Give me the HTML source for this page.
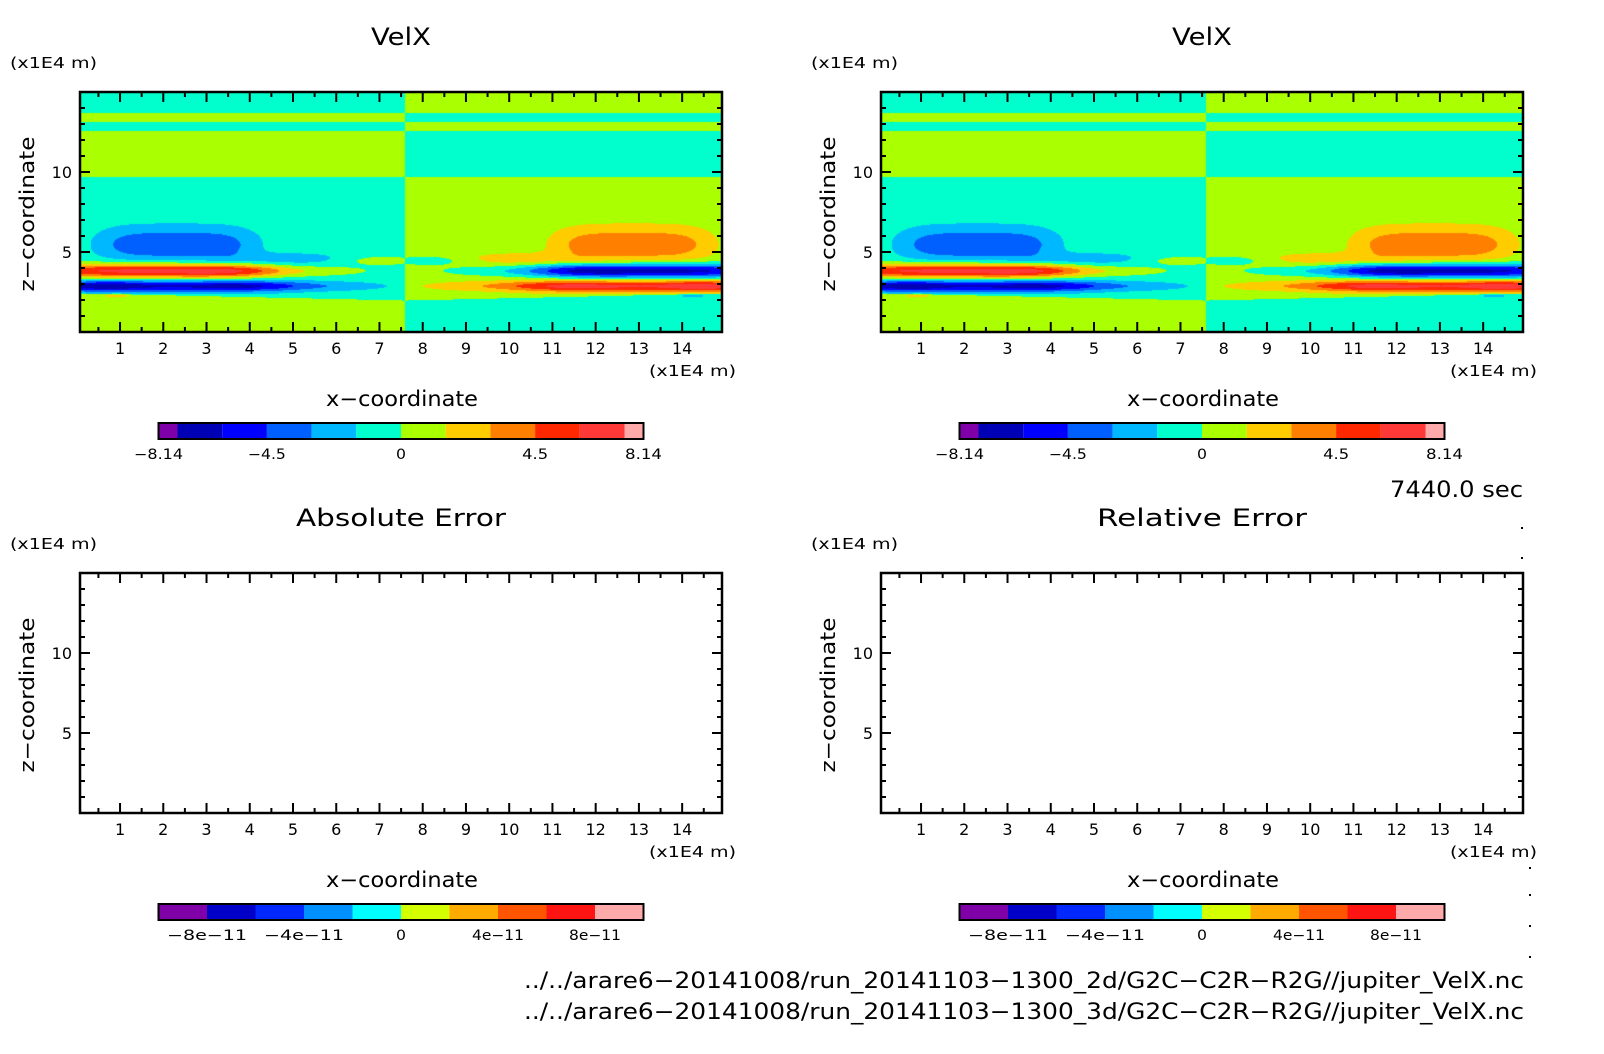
<!DOCTYPE html>
<html><head><meta charset="utf-8"><style>
body{margin:0;background:#fff;width:1604px;height:1054px;overflow:hidden;position:relative;font-family:"DejaVu Sans","Liberation Sans",sans-serif}
canvas{position:absolute}
svg{position:absolute;left:0;top:0;font-family:"DejaVu Sans","Liberation Sans",sans-serif}
</style></head><body>
<canvas id="f1" width="642" height="240" style="left:80px;top:92px"></canvas>
<canvas id="f2" width="642" height="240" style="left:881px;top:92px"></canvas>
<svg id="s" width="1604" height="1054"></svg>
<script>
// colour levels (m/s)
const levels=[-7.5,-6,-4.5,-3,-1.5,0,1.5,3,4.5,6,7.5];
const colors=["#7f00a8","#0000b4","#0000ff","#0060ff","#00b8ff","#00ffcc","#aaff00","#ffcc00","#ff8000","#ff2800","#ff3838","#ffaaaa"];
const errColors=["#8000a8","#0000c8","#0028ff","#0090ff","#00ffff","#d4ff00","#ffaa00","#ff5500","#ff1414","#ffaaaa"];
const errTicks=["-8e-11","-4e-11","0","4e-11","8e-11"];
const errTickVals=[-8,-4,0,4,8];
const errTickLen=[80,80,10,52,52];
const velTicks=["-8.14","-4.5","0","4.5","8.14"];
const velTickVals=[-8.14,-4.5,0,4.5,8.14];
const velTickLen=[49,38,10,26,37];
// layered background (left half), z boundaries and signs
const layerTops=[9.75,12.6,13.15,13.75,99];
const layerVals=[-0.75,0.75,-0.75,0.75,-0.75];
const groundZ0=2.45, groundZ1=2.0;
// blobs: x, z, sx, sz, amp, xpower
const blobX=[1.8,4.6,2.0,5.0,0.6,2.3,4.9,7.0,0.9];
const blobZ=[3.85,3.85,2.9,2.9,2.9,5.5,4.6,4.5,2.3];
const blobSX=[2.6,2.0,2.8,2.0,0.9,1.78,1.4,0.9,0.35];
const blobSZ=[0.45,0.35,0.37,0.32,0.3,1.05,0.4,0.3,0.12];
const blobA=[7.3,2.2,-5.0,-2.4,-2.0,-3.6,-1.6,1.6,1.8];
const blobP=[2,1,2,1,1,2,1,1,1];
const divideX=7.57;
function g(x,z){
  let v;const zb=groundZ0+(groundZ1-groundZ0)*x/7.5;
  if(z<zb)v=0.75;else{v=layerVals[0];for(let k=0;k<layerTops.length;k++){if(z<layerTops[k]){v=layerVals[k];break;}}}
  for(let b=0;b<blobX.length;b++){
    const dx=(x-blobX[b])/blobSX[b],dz=(z-blobZ[b])/blobSZ[b];
    const ex=blobP[b]==2?dx*dx*dx*dx:dx*dx;
    v+=blobA[b]*Math.exp(-ex-dz*dz);
  }
  return v;
}
function field(x,z){return x<divideX?g(x,z):-g(2*divideX-x,z);}
function col(v){let i=0;while(i<levels.length&&v>=levels[i])i++;return colors[i];}
function hex(c){return [parseInt(c.slice(1,3),16),parseInt(c.slice(3,5),16),parseInt(c.slice(5,7),16)];}
['f1','f2'].forEach(id=>{
  const cv=document.getElementById(id),ctx=cv.getContext('2d');
  const im=ctx.createImageData(642,240);
  for(let j=0;j<240;j++)for(let i=0;i<642;i++){
    const x=(i+3.2)/43.24,z=(240-j)/16;
    const c=hex(col(field(x,z)));const p=(j*642+i)*4;
    im.data[p]=c[0];im.data[p+1]=c[1];im.data[p+2]=c[2];im.data[p+3]=255;}
  ctx.putImageData(im,0,0);
});
const S=document.getElementById('s'),NS="http://www.w3.org/2000/svg";
function el(t,a,txt){const e=document.createElementNS(NS,t);for(const k in a)e.setAttribute(k,a[k]);if(txt!==undefined)e.textContent=txt;S.appendChild(e);return e;}
function panel(ox,oy,title,err,pid){
  const L=ox,T=oy,W=642,H=240;
  const xs=x=>L-3.2+43.24*x, ys=z=>T+H-16*z;
  let e=el('text',{x:L+321,y:T-47,'font-size':24,'text-anchor':'middle',textLength:err?210:60,lengthAdjust:'spacingAndGlyphs'},title);
  
  
  e=el('text',{x:L-70,y:T-24,'font-size':15,textLength:87,lengthAdjust:'spacingAndGlyphs'},'(x1E4 m)');
  
  
  e=el('text',{x:0,y:0,'font-size':20,'text-anchor':'middle',textLength:155,lengthAdjust:'spacingAndGlyphs',transform:`translate(${L-46},${T+122}) rotate(-90)`},'z\u2212coordinate');
  
  
  for(let i=1;i<=14;i++){
    el('line',{x1:xs(i),x2:xs(i),y1:T+H,y2:T+H-10,stroke:'#000','stroke-width':2});
    el('line',{x1:xs(i),x2:xs(i),y1:T,y2:T+10,stroke:'#000','stroke-width':2});
    el('line',{x1:xs(i-0.5),x2:xs(i-0.5),y1:T+H,y2:T+H-5,stroke:'#000','stroke-width':2});
    el('line',{x1:xs(i-0.5),x2:xs(i-0.5),y1:T,y2:T+5,stroke:'#000','stroke-width':2});
    e=el('text',{x:xs(i),y:T+H+22,'font-size':16,'text-anchor':'middle'},String(i));
    
    
  }
  el('line',{x1:xs(14.5),x2:xs(14.5),y1:T+H,y2:T+H-5,stroke:'#000','stroke-width':2});
  el('line',{x1:xs(14.5),x2:xs(14.5),y1:T,y2:T+5,stroke:'#000','stroke-width':2});
  for(let z=1;z<=14;z++){
    const len=z%5==0?10:5;
    el('line',{x1:L,x2:L+len,y1:ys(z),y2:ys(z),stroke:'#000','stroke-width':2});
    el('line',{x1:L+W,x2:L+W-len,y1:ys(z),y2:ys(z),stroke:'#000','stroke-width':2});
    if(z%5==0){e=el('text',{x:L-8,y:ys(z)+6,'font-size':16,'text-anchor':'end'},String(z));
      
      }
  }
  e=el('rect',{x:L,y:T,width:W,height:H,fill:'none',stroke:'#000','stroke-width':2.5});
  
  
  e=el('text',{x:L+656,y:T+H+44,'font-size':15,'text-anchor':'end',textLength:87,lengthAdjust:'spacingAndGlyphs'},'(x1E4 m)');
  
  
  e=el('text',{x:L+322,y:T+H+74,'font-size':21,'text-anchor':'middle',textLength:152,lengthAdjust:'spacingAndGlyphs'},'x\u2212coordinate');
  
  
  // colorbar
  const bx=L+78.5,bw=485,by=T+H+91,bh=16,c=L+321;
  if(!err){
    const seg=44.7;
    for(let k=0;k<12;k++){
      let x0,x1;
      if(k==0){x0=bx;x1=c+levels[0]/1.5*seg;}
      else if(k==11){x0=c+levels[10]/1.5*seg;x1=bx+bw;}
      else{x0=c+levels[k-1]/1.5*seg;x1=c+levels[k]/1.5*seg;}
      e=el('rect',{x:x0,y:by,width:x1-x0,height:bh,fill:colors[k]});
      
      
    }
    velTickVals.forEach((v,i)=>{
      const x=Math.abs(v)>8?(v<0?bx:bx+bw):c+v/1.5*seg;
      e=el('text',{x:x,y:by+bh+20,'font-size':14,'text-anchor':'middle',textLength:velTickLen[i],lengthAdjust:'spacingAndGlyphs'},velTicks[i].replace('-','\u2212'));
      
      
    });
  }else{
    const seg=bw/10;
    for(let k=0;k<10;k++){
      e=el('rect',{x:bx+k*seg,y:by,width:seg,height:bh,fill:errColors[k]});
      
      
    }
    errTickVals.forEach((v,i)=>{
      e=el('text',{x:c+v/2*seg,y:by+bh+20,'font-size':14,'text-anchor':'middle',textLength:errTickLen[i],lengthAdjust:'spacingAndGlyphs'},errTicks[i].replace(/-/g,'\u2212'));
      
      
    });
  }
  e=el('rect',{x:bx,y:by,width:bw,height:bh,fill:'none',stroke:'#000','stroke-width':2});
  
  
}
panel(80,92,'VelX',false,'velx-left');
panel(881,92,'VelX',false,'velx-right');
panel(80,573,'Absolute Error',true,'abs-error');
panel(881,573,'Relative Error',true,'rel-error');
let t=el('text',{x:1523,y:497,'font-size':22,'text-anchor':'end',textLength:133,lengthAdjust:'spacingAndGlyphs'},'7440.0 sec');


t=el('text',{x:1524,y:988,'font-size':22,'text-anchor':'end',textLength:1000,lengthAdjust:'spacingAndGlyphs'},'../../arare6\u221220141008/run_20141103\u22121300_2d/G2C\u2212C2R\u2212R2G//jupiter_VelX.nc');


t=el('text',{x:1524,y:1019,'font-size':22,'text-anchor':'end',textLength:1000,lengthAdjust:'spacingAndGlyphs'},'../../arare6\u221220141008/run_20141103\u22121300_3d/G2C\u2212C2R\u2212R2G//jupiter_VelX.nc');


[[1521,527],[1521,557],[1529,867],[1529,894],[1529,925],[1529,956]].forEach(p=>{
  const d=el('rect',{x:p[0],y:p[1],width:2,height:2,fill:'#000'});
  
  
});
</script>
</body></html>
